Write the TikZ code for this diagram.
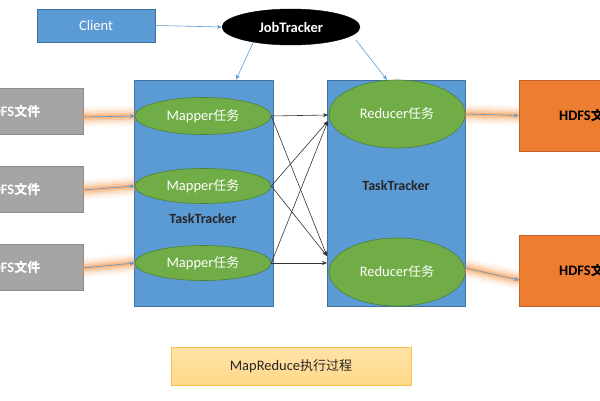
\documentclass[tikz,border=0pt]{standalone}
\usepackage{fontspec}
\setmainfont{Carlito}
\newfontfamily\cjk{Noto Sans CJK SC}
\usetikzlibrary{shapes.geometric,arrows.meta,calc}
\definecolor{cblue}{HTML}{5B9BD5}
\definecolor{cblueb}{HTML}{41719C}
\definecolor{cgreen}{HTML}{70AD47}
\definecolor{cgreenb}{HTML}{507E32}
\definecolor{cgray}{HTML}{A5A5A5}
\definecolor{cgrayb}{HTML}{8C8C8C}
\definecolor{corange}{HTML}{ED7D31}
\definecolor{corangeb}{HTML}{C0622A}
\definecolor{glow}{HTML}{F79646}
\definecolor{ybox}{HTML}{FFD98A}
\definecolor{yboxb}{HTML}{F6C24A}
\definecolor{dtext}{HTML}{262626}
\newcommand\zh[1]{{\cjk\fontsize{13pt}{15pt}\selectfont #1}}
\newcommand\fs{\fontsize{14.5pt}{16pt}\selectfont}
\tikzset{
  rectbox/.style={draw, line width=0.6pt, inner sep=0pt},
  bluebox/.style={rectbox, fill=cblue, draw=cblueb},
  graybox/.style={rectbox, fill=cgray, draw=cgrayb, minimum width=143pt, minimum height=46pt, text=white, font=\bfseries\fs},
  orangebox/.style={rectbox, fill=corange, draw=corangeb, minimum width=138pt, minimum height=71pt, text=black, font=\bfseries\fs},
  task/.style={ellipse, fill=cgreen, draw=cgreenb, line width=0.6pt, text=white, minimum width=136pt, inner sep=0pt, font=\fs},
  ttlabel/.style={font=\bfseries\fontsize{14pt}{16pt}\selectfont, text=black!85},
  barrow/.style={-{Stealth[length=5pt,width=4pt]}, draw=cblue, line width=0.6pt},
  karrow/.style={-{Stealth[length=5pt,width=4pt]}, draw=black!80, line width=0.6pt},
}
\newcommand\glowline[2]{%
  \foreach \w/\o in {20/0.07,15/0.11,11/0.16,7/0.26,3.5/0.4}{%
    \draw[line width=\w pt, draw=glow, opacity=\o] #1 -- #2;}%
}
\begin{document}
\begin{tikzpicture}[x=1pt,y=-1pt]
\useasboundingbox (0,0) rectangle (600,400);
\clip (0,0) rectangle (600,400);
\fill[white] (0,0) rectangle (600,400);

% top
\node[bluebox, minimum width=118pt, minimum height=33pt, text=white, font=\fs] (client) at (96,25.5) {Client};
\node[ellipse, fill=black, draw=black, minimum width=138pt, minimum height=36pt, inner sep=0pt, text=white, font=\bfseries\fs] (jt) at (291,27) {JobTracker};

% tasktrackers
\node[bluebox, minimum width=139pt, minimum height=226pt] (ttl) at (203.5,193) {};
\node[bluebox, minimum width=138pt, minimum height=226pt] (ttr) at (396,193) {};
\node[ttlabel] (ttll) at (203,219) {TaskTracker};
\node[ttlabel] (ttrl) at (396,186) {TaskTracker};

% mappers
\node[task, minimum height=37pt] (m1) at (203,116) {Mapper\zh{任务}};
\node[task, minimum height=35pt] (m2) at (203,186) {Mapper\zh{任务}};
\node[task, minimum height=35pt] (m3) at (203,263) {Mapper\zh{任务}};
% reducers
\node[task, minimum height=68pt] (r1) at (397,114) {Reducer\zh{任务}};
\node[task, minimum height=68pt] (r2) at (397,272) {Reducer\zh{任务}};

% HDFS boxes
\node[graybox] (g1) at (11.5,111) {HDFS\zh{\bfseries 文件}};
\node[graybox] (g2) at (11.5,189) {HDFS\zh{\bfseries 文件}};
\node[graybox] (g3) at (11.5,267) {HDFS\zh{\bfseries 文件}};
\node[orangebox] (o1) at (588,115.5) {HDFS\zh{\bfseries 文件}};
\node[orangebox] (o2) at (588,270.5) {HDFS\zh{\bfseries 文件}};

% bottom caption
\node[rectbox, top color=ybox!75!white, bottom color=ybox, draw=yboxb, minimum width=240pt, minimum height=38pt, text=dtext, font=\fs] (cap) at (291,366) {MapReduce\zh{执行过程}};

% blue arrows
\draw[barrow] (client.east) -- (jt.west);
\coordinate (jtl) at (253,43);
\coordinate (jtr) at (356,40);
\draw[barrow] (jtl) -- (ttl.north -| 236,0);
\draw[barrow] (jtr) -- (387,80);

% glow arrows
\coordinate (g1a) at (83,117);
\coordinate (g2a) at (83,190);
\coordinate (g3a) at (83,268);
\coordinate (o2a) at (519,280);
\glowline{(g1a)}{(m1.west)}
\glowline{(g2a)}{(m2.west)}
\glowline{(g3a)}{(m3.west)}
\glowline{(r1.east)}{(o1.west)}
\glowline{($(r2.east)+(0,-4)$)}{(o2a)}
\draw[barrow] (g1a) -- (m1.west);
\draw[barrow] (g2a) -- (m2.west);
\draw[barrow] (g3a) -- (m3.west);
\draw[barrow] (r1.east) -- (o1.west);
\draw[barrow] ($(r2.east)+(0,-4)$) -- (o2a);

% black arrows
\coordinate (in1) at (328,115);
\coordinate (in1b) at (328,121);
\coordinate (in2) at (327,256);
\coordinate (in2b) at (327,263);
\draw[karrow] (m1.east) -- (in1);
\draw[karrow] (m1.east) -- (in2);
\draw[karrow] (m2.east) -- (in1b);
\draw[karrow] (m2.east) -- (in2);
\draw[karrow] (m3.east) -- (in1b);
\draw[karrow] (m3.east) -- (in2b);
\end{tikzpicture}
\end{document}
